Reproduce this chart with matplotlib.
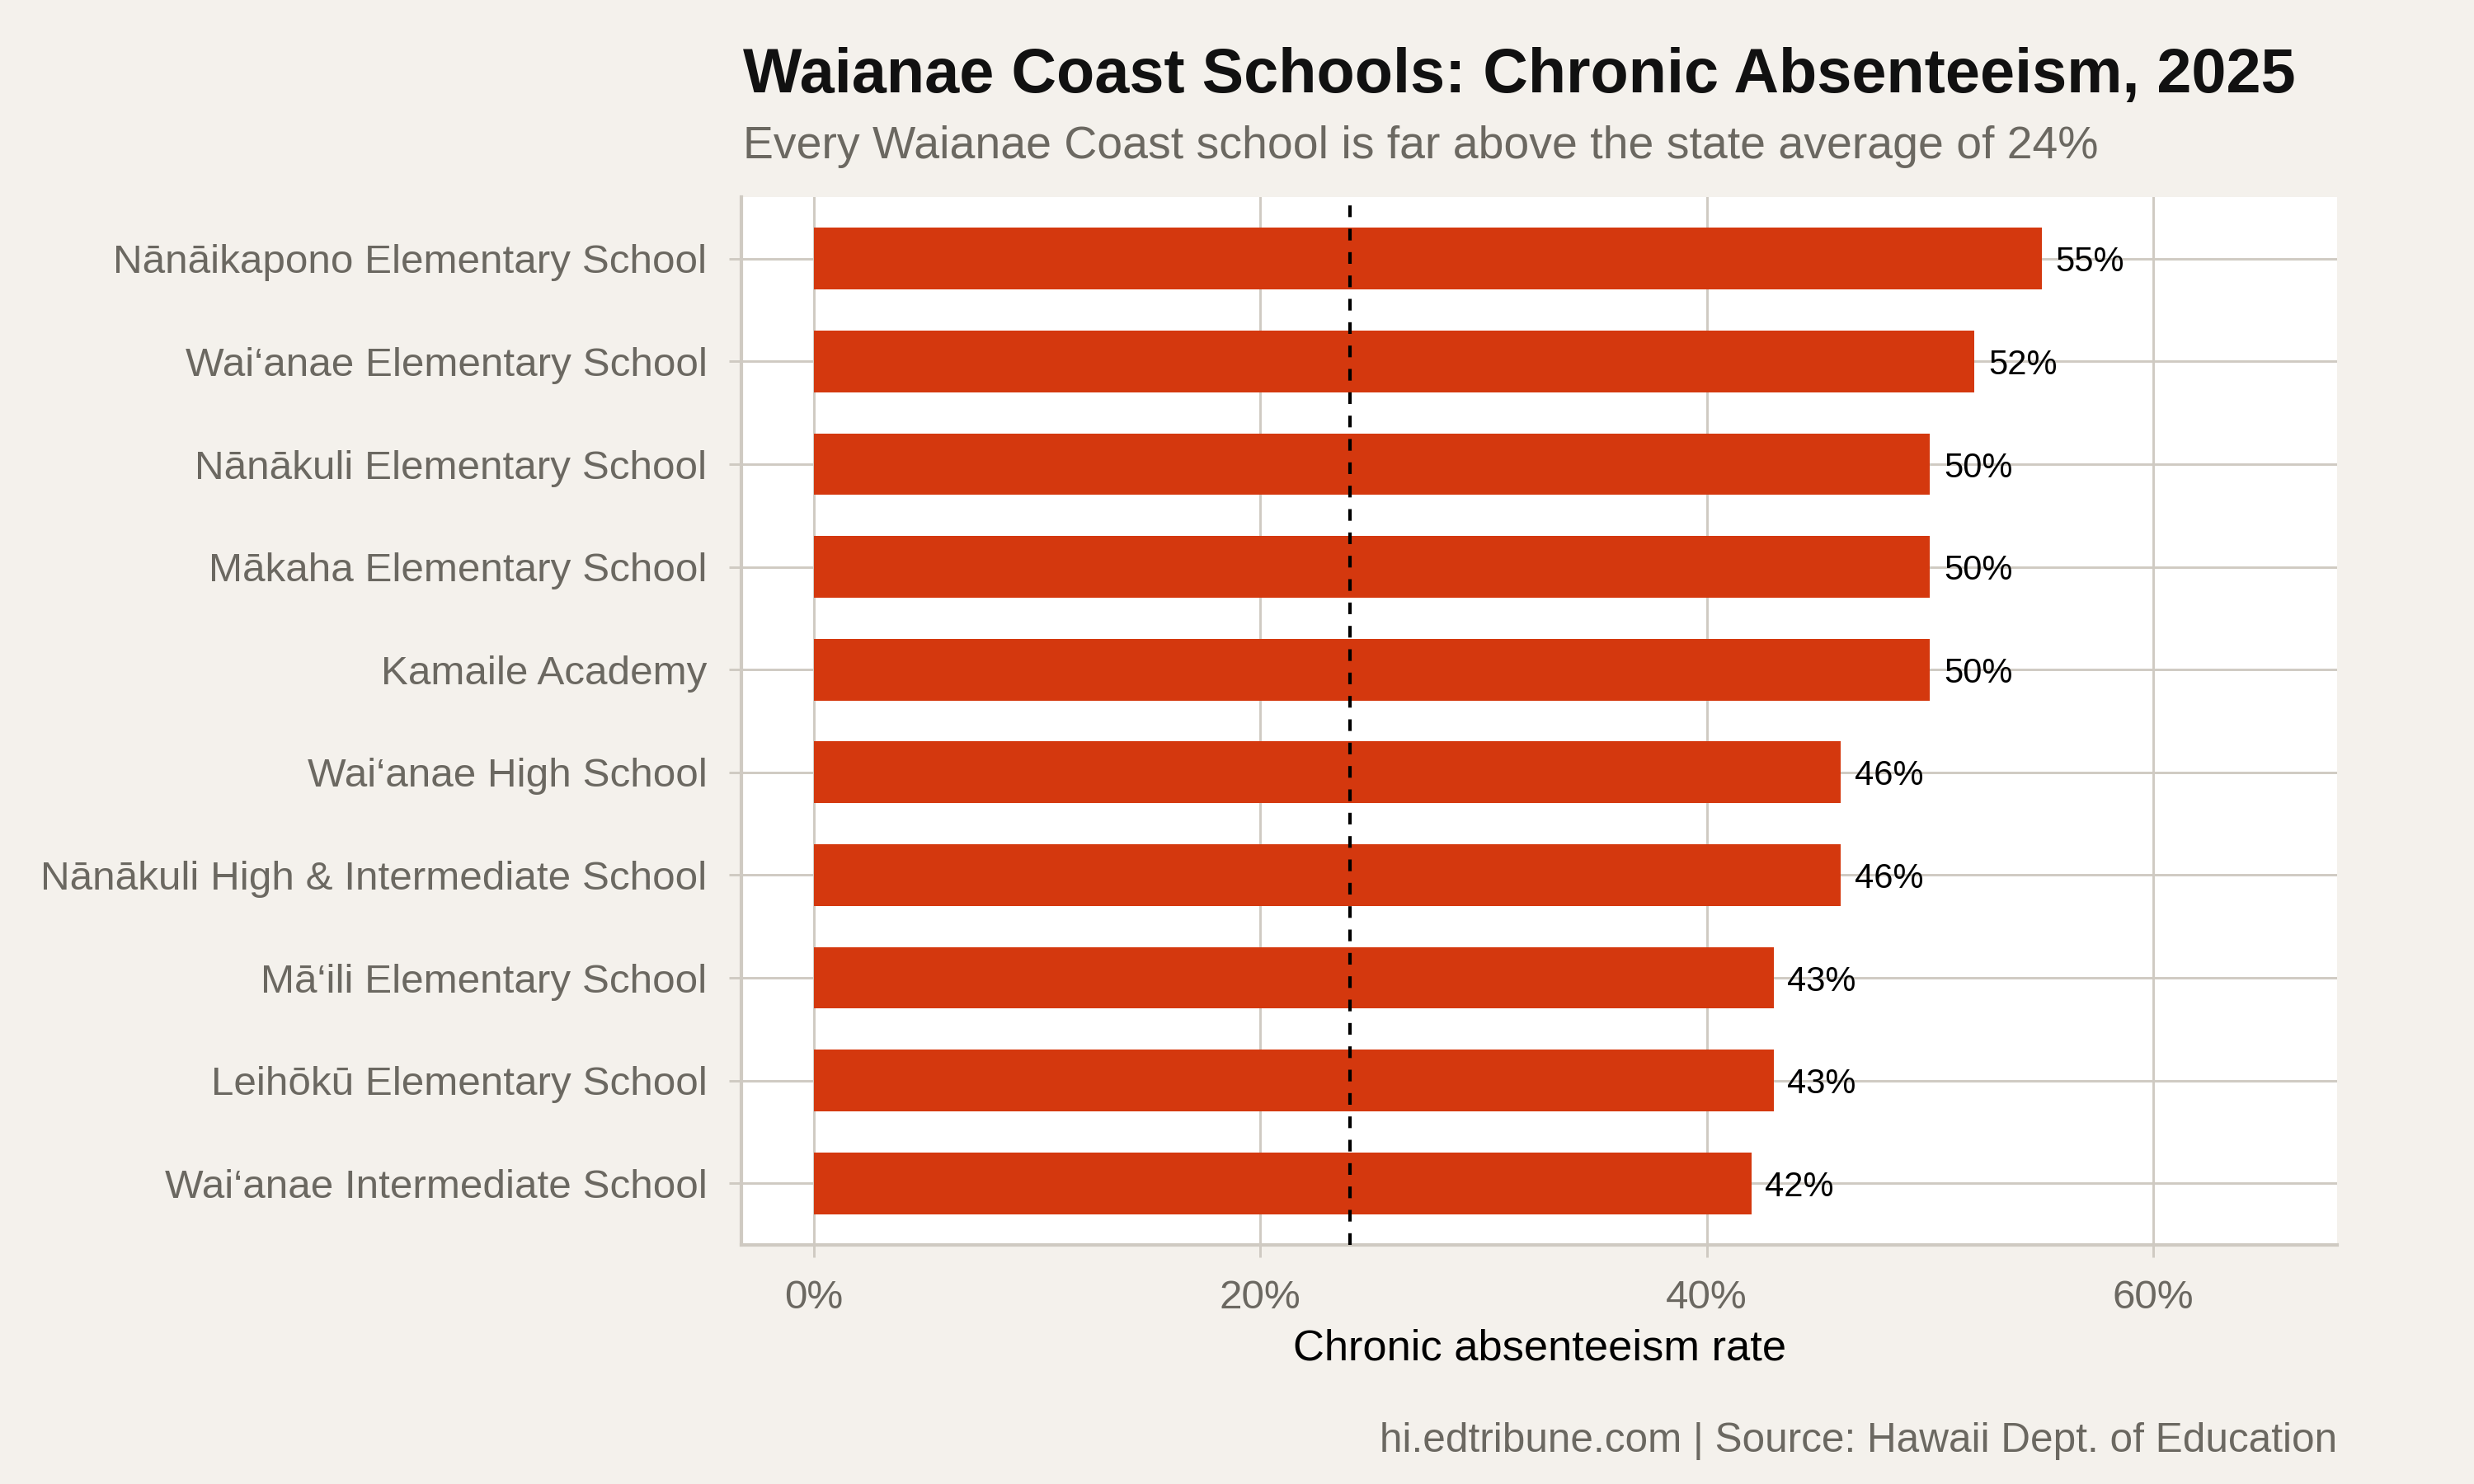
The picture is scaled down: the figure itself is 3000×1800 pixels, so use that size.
import matplotlib
matplotlib.use('Agg')
import matplotlib.pyplot as plt
from matplotlib.ticker import FuncFormatter

plt.rcParams['font.family'] = ['Liberation Sans', 'DejaVu Sans']

# data, top to bottom as shown
schools = ['Nānāikapono Elementary School', 'Wai‘anae Elementary School',
           'Nānākuli Elementary School', 'Mākaha Elementary School',
           'Kamaile Academy', 'Wai‘anae High School',
           'Nānākuli High & Intermediate School', 'Mā‘ili Elementary School',
           'Leihōkū Elementary School', 'Wai‘anae Intermediate School']
rates = [55, 52, 50, 50, 50, 46, 46, 43, 43, 42]
state_avg = 24
xticks = [0, 20, 40, 60]

bg = '#F4F1EC'
bar_col = '#D4380E'
grid_col = '#CFCAC2'
grey_txt = '#6B6861'

fig = plt.figure(figsize=(10, 6), dpi=300, facecolor=bg)
ax = fig.add_axes([0.2997, 0.1611, 0.9447 - 0.2997, 0.8672 - 0.1611])
ax.set_facecolor('white')

n = len(schools)
ypos = list(range(n, 0, -1))
ax.barh(ypos, rates, height=0.6, color=bar_col, zorder=3)
for y, v in zip(ypos, rates):
    ax.annotate(f'{v}%', (v, y), xytext=(4, 0), textcoords='offset points',
                va='center_baseline', ha='left', fontsize=10, color='black', zorder=5)

ax.axvline(state_avg, color='black', lw=1.0, ls=(0, (3.4, 3.4)), zorder=4)

ax.set_xlim(-3.25, 68.25)
ax.set_ylim(0.4, n + 0.6)
ax.set_xticks(xticks)
ax.xaxis.set_major_formatter(FuncFormatter(lambda x, p: f'{x:.0f}%'))
ax.set_yticks(ypos)
ax.set_yticklabels(schools)

ax.grid(True, color=grid_col, lw=0.7, zorder=0)
ax.set_axisbelow(True)
for s in ['top', 'right']:
    ax.spines[s].set_visible(False)
for s in ['left', 'bottom']:
    ax.spines[s].set_color(grid_col)
    ax.spines[s].set_linewidth(1.0)

ax.tick_params(axis='both', colors=grid_col, length=3.5, width=0.7,
               labelcolor=grey_txt, labelsize=11.85)
ax.tick_params(axis='x', pad=6.5)
ax.tick_params(axis='y', pad=6.5)

ax.set_xlabel('Chronic absenteeism rate', fontsize=12.6, color='black', labelpad=3.5)

fig.text(0.3003, 0.9378, 'Waianae Coast Schools: Chronic Absenteeism, 2025',
         fontsize=18.15, fontweight='bold', color='#111111', ha='left', va='baseline')
fig.text(0.3003, 0.8933, 'Every Waianae Coast school is far above the state average of 24%',
         fontsize=13.3, color=grey_txt, ha='left', va='baseline')
fig.text(0.9447, 0.0217, 'hi.edtribune.com | Source: Hawaii Dept. of Education',
         fontsize=11.9, color=grey_txt, ha='right', va='baseline')

fig.savefig('out.png', dpi=300, facecolor=bg)
